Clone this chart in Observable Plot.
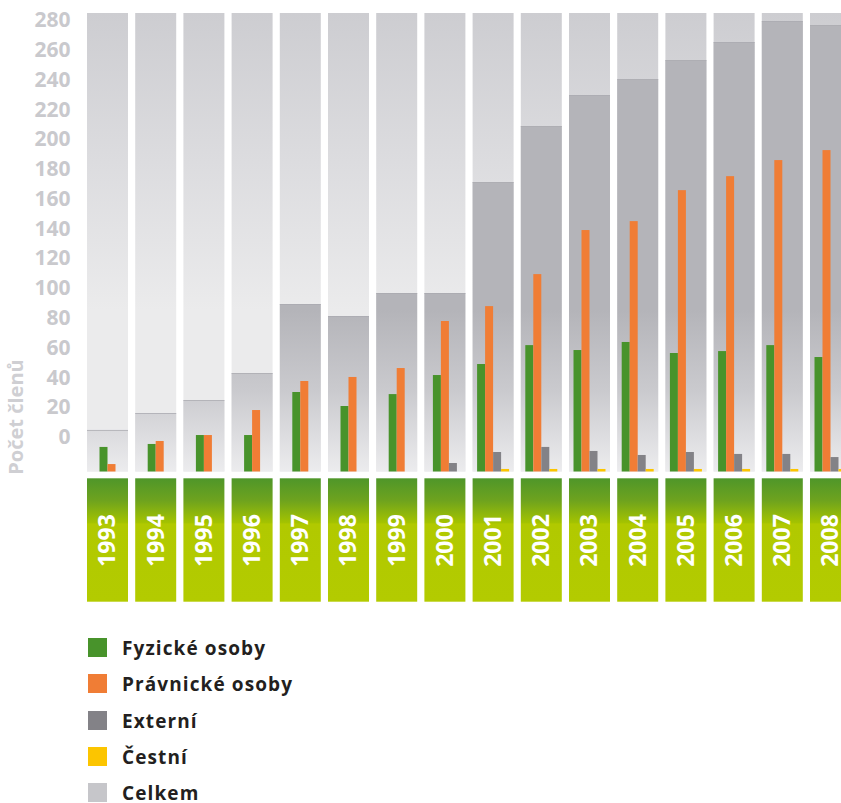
<!DOCTYPE html>
<html><head><meta charset="utf-8">
<script src="https://cdn.jsdelivr.net/npm/d3@7"></script>
<script src="https://cdn.jsdelivr.net/npm/@observablehq/plot@0.6"></script>
<style>
body{margin:0;background:#fff;overflow:hidden;font-family:"Open Sans",sans-serif;}
#chart{position:relative;width:841px;height:803px;overflow:hidden}
#chart svg{display:block}
.legend{position:absolute;left:88px;top:638px}
.row{display:flex;align-items:center;height:19px;margin-bottom:17.25px}
.sw{width:19px;height:19px;margin-right:15px;flex:none}
.lab{font-weight:700;font-size:19px;letter-spacing:1.1px;color:#231f20;line-height:19px;position:relative;top:1px}
</style></head><body><div id="chart"></div>
<script>
const years = [1993,1994,1995,1996,1997,1998,1999,2000,2001,2002,2003,2004,2005,2006,2007,2008];
const fyzicke   = [16.5,18.5,24.5,24.5,53.4,44.0,52.0,64.8,72.2,84.9,81.6,87.0,79.6,80.9,84.9,76.9];
const pravnicke = [5.0,20.5,24.5,41.3,60.8,63.5,69.5,101.1,111.1,132.6,162.2,168.2,189.0,198.4,209.2,215.9];
const externi   = [null,null,null,null,null,null,null,5.7,13.1,16.5,13.8,11.1,13.1,11.8,11.8,9.7];
const cestni    = [null,null,null,null,null,null,null,null,1.7,1.7,1.7,1.7,1.7,1.7,1.7,1.7];
const celkem    = [27.9,39.3,48.0,66.1,112.5,104.4,119.9,119.9,194.4,232.0,252.8,263.5,276.3,288.4,302.5,299.8];
const yTicks = [0,20,40,60,80,100,120,140,160,180,200,220,240,260,280];
const seriesNames  = ["Fyzické osoby","Právnické osoby","Externí","Čestní","Celkem"];
const seriesColors = ["#48932b","#f07d35","#838287","#fcc500","#c6c6ca"];
const yTitle = "Počet členů";

const Y_MAX = 308;          // top of the background columns
const AXIS_OFFSET = 23.3;   // the tick labels sit above the bar baseline in the original
const STEP_PX = 48.2, HALF = 20.5 / STEP_PX, W = 8 / STEP_PX;
const xScale = {type: "linear", domain: [1993, 2008], range: [107.5, 107.5 + 15 * STEP_PX]};

const totals = years.map((year, i) => ({year, celkem: celkem[i]}));
const subSeries = [fyzicke, pravnicke, externi, cestni];
const bars = [];
years.forEach((year, j) => {
  const present = subSeries.map((s, k) => ({k, v: s[j]})).filter(d => d.v != null);
  present.forEach((d, i) => bars.push({year, series: seriesNames[d.k], value: d.v, slot: i - present.length / 2}));
});

const font = "'Open Sans', sans-serif";

const plot1 = Plot.plot({
  width: 841, height: 475,
  marginLeft: 80, marginTop: 13, marginBottom: 3.5, marginRight: 0,
  style: {fontFamily: font, background: "white"},
  x: {...xScale, axis: null},
  y: {domain: [0, Y_MAX], range: [471.5, 13], axis: null},
  color: {domain: seriesNames, range: seriesColors},
  marks: [
    Plot.rect(years, {x1: d => d - HALF, x2: d => d + HALF, y1: 0, y2: Y_MAX, fill: "url(#gBack)"}),
    Plot.rect(totals, {x1: d => d.year - HALF, x2: d => d.year + HALF, y1: 0, y2: "celkem", fill: "url(#gCelkem)"}),
    Plot.rect(totals, {x1: d => d.year - HALF, x2: d => d.year + HALF, y1: "celkem", y2: d => d.celkem - 0.5, fill: "#aaaab0"}),
    Plot.rect(bars, {x1: d => d.year + d.slot * W, x2: d => d.year + (d.slot + 1) * W, y1: 0, y2: "value", fill: "series"}),
    Plot.text(yTicks, {y: d => d + AXIS_OFFSET, text: d => String(d), frameAnchor: "left", dx: -10, textAnchor: "end",
      fill: "#c9c9cd", fontSize: 21, fontWeight: "bold"}),
    Plot.text([yTitle], {frameAnchor: "bottom-left", textAnchor: "middle", dx: -58, dy: -55, rotate: -90, fill: "#cfcfd3", fontSize: 20, fontWeight: "bold"})
  ]
});

const plot2 = Plot.plot({
  width: 841, height: 130,
  marginLeft: 80, marginTop: 3.3, marginBottom: 3.3, marginRight: 0,
  style: {fontFamily: font, background: "white"},
  x: {...xScale, axis: null},
  y: {domain: [0, 1], range: [126.7, 3.3], axis: null},
  marks: [
    Plot.rect(years, {x1: d => d - HALF, x2: d => d + HALF, y1: 0, y2: 1, fill: "url(#gLabel)"}),
    Plot.text(years, {x: d => d, y: 0.5, text: d => String(d), rotate: -90, fill: "white", fontSize: 23, fontWeight: "bold"})
  ]
});

function addGradient(svg, id, attrs, stops) {
  let defs = svg.select("defs");
  if (defs.empty()) defs = svg.insert("defs", ":first-child");
  const g = defs.append("linearGradient").attr("id", id);
  Object.entries(attrs).forEach(([k, v]) => g.attr(k, v));
  stops.forEach(([o, c]) => g.append("stop").attr("offset", o).attr("stop-color", c));
}
const s1 = d3.select(plot1);
addGradient(s1, "gBack", {gradientUnits: "userSpaceOnUse", x1: 0, x2: 0, y1: 13, y2: 310},
  [[0, "#cdcdd1"], [0.5, "#dcdcdf"], [1, "#ebebec"]]);
addGradient(s1, "gCelkem", {gradientUnits: "userSpaceOnUse", x1: 0, x2: 0, y1: 310, y2: 472},
  [[0, "#b4b4b9"], [0.5, "#cacace"], [1, "#ececee"]]);
const s2 = d3.select(plot2);
addGradient(s2, "gLabel", {x1: 0, x2: 0, y1: 0, y2: 1},
  [[0, "#4f962a"], [0.18, "#6ea31e"], [0.36, "#a4c300"], [0.37, "#b1c900"], [1, "#b3cb00"]]);

const chart = document.getElementById("chart");
chart.appendChild(plot1);
chart.appendChild(plot2);

const legend = document.createElement("div");
legend.className = "legend";
seriesNames.forEach((name, i) => {
  const row = document.createElement("div");
  row.className = "row";
  const sw = document.createElement("div");
  sw.className = "sw";
  sw.style.background = seriesColors[i];
  const lab = document.createElement("span");
  lab.className = "lab";
  lab.textContent = name;
  row.appendChild(sw); row.appendChild(lab);
  legend.appendChild(row);
});
chart.appendChild(legend);
</script></body></html>
